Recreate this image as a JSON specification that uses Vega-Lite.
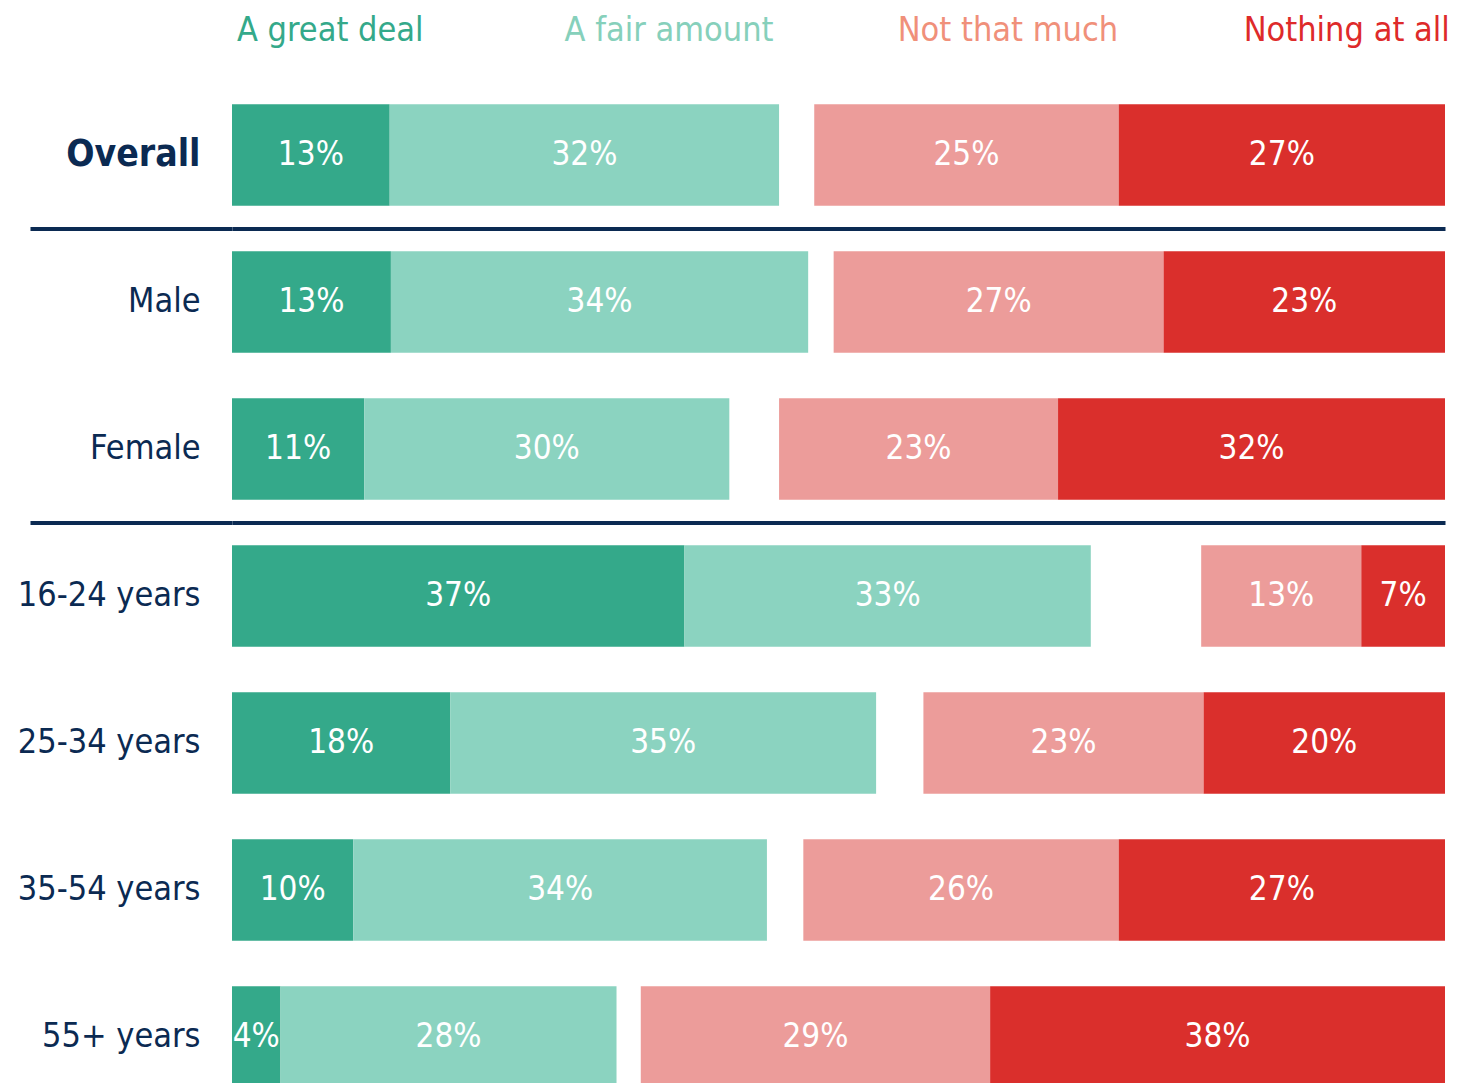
{
  "$schema": "https://vega.github.io/schema/vega-lite/v6.json",
  "background": "white",
  "padding": {"left": 17, "top": 0, "right": 0, "bottom": 0},
  "bounds": "flush",
  "spacing": 19.5,
  "config": {"view": {"stroke": null}, "font": "DejaVu Sans Condensed, sans-serif"},
  "resolve": {"scale": {"color": "independent", "x": "independent"}},
  "vconcat": [
    {
      "width": 1213,
      "height": 62,
      "data": {"values": [
        {"response": "A great deal"},
        {"response": "A fair amount"},
        {"response": "Not that much"},
        {"response": "Nothing at all"}
      ]},
      "mark": {"type": "text", "fontSize": 34, "baseline": "middle", "align": "center"},
      "encoding": {
        "x": {"field": "response", "type": "nominal", "sort": null, "scale": {"type": "point", "padding": 0.29}, "axis": null},
        "text": {"field": "response"},
        "color": {"field": "response", "type": "nominal", "sort": null, "legend": null,
          "scale": {"domain": ["A great deal", "A fair amount", "Not that much", "Nothing at all"],
                    "range": ["#34a98a", "#86d0bb", "#f0907a", "#de2a2a"]}}
      }
    },
    {
      "width": 1213,
      "height": 1029,
      "data": {"values": [
        {"group": "Overall", "response": "A great deal", "value": 13.0, "label": "13%"},
        {"group": "Overall", "response": "A fair amount", "value": 32.1, "label": "32%"},
        {"group": "Overall", "response": "Other", "value": 2.9, "label": ""},
        {"group": "Overall", "response": "Not that much", "value": 25.1, "label": "25%"},
        {"group": "Overall", "response": "Nothing at all", "value": 26.9, "label": "27%"},
        {"group": "Male", "response": "A great deal", "value": 13.1, "label": "13%"},
        {"group": "Male", "response": "A fair amount", "value": 34.4, "label": "34%"},
        {"group": "Male", "response": "Other", "value": 2.1, "label": ""},
        {"group": "Male", "response": "Not that much", "value": 27.2, "label": "27%"},
        {"group": "Male", "response": "Nothing at all", "value": 23.2, "label": "23%"},
        {"group": "Female", "response": "A great deal", "value": 10.9, "label": "11%"},
        {"group": "Female", "response": "A fair amount", "value": 30.1, "label": "30%"},
        {"group": "Female", "response": "Other", "value": 4.1, "label": ""},
        {"group": "Female", "response": "Not that much", "value": 23.0, "label": "23%"},
        {"group": "Female", "response": "Nothing at all", "value": 31.9, "label": "32%"},
        {"group": "16-24 years", "response": "A great deal", "value": 37.3, "label": "37%"},
        {"group": "16-24 years", "response": "A fair amount", "value": 33.5, "label": "33%"},
        {"group": "16-24 years", "response": "Other", "value": 9.1, "label": ""},
        {"group": "16-24 years", "response": "Not that much", "value": 13.2, "label": "13%"},
        {"group": "16-24 years", "response": "Nothing at all", "value": 6.9, "label": "7%"},
        {"group": "25-34 years", "response": "A great deal", "value": 18.0, "label": "18%"},
        {"group": "25-34 years", "response": "A fair amount", "value": 35.1, "label": "35%"},
        {"group": "25-34 years", "response": "Other", "value": 3.9, "label": ""},
        {"group": "25-34 years", "response": "Not that much", "value": 23.1, "label": "23%"},
        {"group": "25-34 years", "response": "Nothing at all", "value": 19.9, "label": "20%"},
        {"group": "35-54 years", "response": "A great deal", "value": 10.0, "label": "10%"},
        {"group": "35-54 years", "response": "A fair amount", "value": 34.1, "label": "34%"},
        {"group": "35-54 years", "response": "Other", "value": 3.0, "label": ""},
        {"group": "35-54 years", "response": "Not that much", "value": 26.0, "label": "26%"},
        {"group": "35-54 years", "response": "Nothing at all", "value": 26.9, "label": "27%"},
        {"group": "55+ years", "response": "A great deal", "value": 4.0, "label": "4%"},
        {"group": "55+ years", "response": "A fair amount", "value": 27.7, "label": "28%"},
        {"group": "55+ years", "response": "Other", "value": 2.0, "label": ""},
        {"group": "55+ years", "response": "Not that much", "value": 28.8, "label": "29%"},
        {"group": "55+ years", "response": "Nothing at all", "value": 37.5, "label": "38%"}
      ]},
      "transform": [
        {"calculate": "indexof(['A great deal','A fair amount','Other','Not that much','Nothing at all'], datum.response)", "as": "k"},
        {"stack": "value", "groupby": ["group"], "sort": [{"field": "k", "order": "ascending"}], "as": ["x0", "x1"]},
        {"calculate": "(datum.x0 + datum.x1) / 2", "as": "mid"}
      ],
      "encoding": {
        "y": {
          "field": "group", "type": "nominal", "sort": null,
          "scale": {"paddingInner": 0, "paddingOuter": 0},
          "axis": {
            "title": null,
            "domain": false,
            "grid": true,
            "bandPosition": 0,
            "gridWidth": 4,
            "gridColor": {"condition": {"test": "datum.value === 'Male' || datum.value === '16-24 years'", "value": "#0b2a52"}, "value": "transparent"},
            "ticks": true,
            "tickSize": 202,
            "tickWidth": 4,
            "tickColor": {"condition": {"test": "datum.value === 'Male' || datum.value === '16-24 years'", "value": "#0b2a52"}, "value": "transparent"},
            "labelPadding": -170,
            "labelColor": "#0b2a52",
            "labelLimit": 0,
            "labelFontSize": {"condition": {"test": "datum.value === 'Overall'", "value": 37}, "value": 34},
            "labelFontWeight": {"condition": {"test": "datum.value === 'Overall'", "value": "bold"}, "value": "normal"}
          }
        }
      },
      "layer": [
        {
          "mark": {"type": "bar", "height": {"band": 0.69}},
          "encoding": {
            "x": {"field": "x0", "type": "quantitative", "scale": {"domain": [0, 100], "nice": false, "zero": true}, "axis": null},
            "x2": {"field": "x1"},
            "color": {"field": "response", "type": "nominal", "legend": null,
              "scale": {"domain": ["A great deal", "A fair amount", "Other", "Not that much", "Nothing at all"],
                        "range": ["#34a98a", "#8bd3c0", "transparent", "#ec9c9a", "#da2f2c"]}}
          }
        },
        {
          "mark": {"type": "text", "fontSize": 33, "color": "white", "baseline": "middle", "align": "center"},
          "encoding": {
            "x": {"field": "mid", "type": "quantitative"},
            "text": {"field": "label"}
          }
        }
      ]
    }
  ]
}
